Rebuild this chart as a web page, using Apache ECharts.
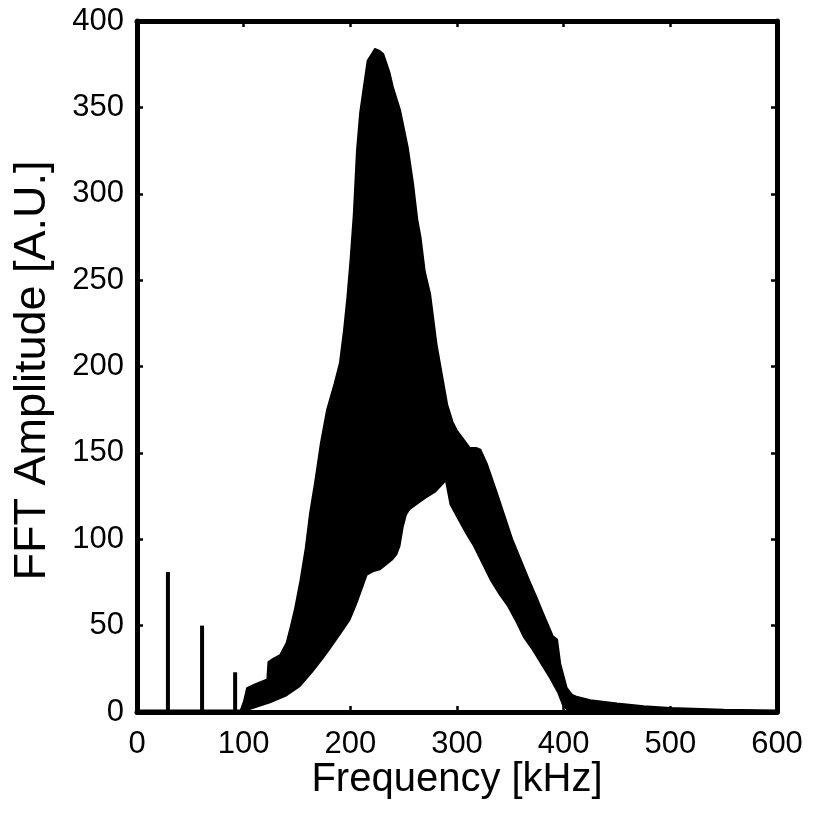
<!DOCTYPE html>
<html>
<head>
<meta charset="utf-8">
<script src="https://cdn.jsdelivr.net/npm/echarts@6/dist/echarts.min.js"></script>
<style>
html,body{margin:0;padding:0;background:#fff;}
#chart{width:813px;height:817px;}
</style>
</head>
<body>
<div id="chart"></div>
<script>
// Upper envelope of the FFT amplitude (kHz, A.U.)
const upperFreq = [0, 50, 97, 100, 103, 110, 118, 122, 123, 128, 134, 140, 143, 148, 153, 158, 162, 167, 172, 178, 185, 190, 194, 197, 200, 203, 206, 209, 212, 216, 220, 223, 227, 231, 237, 240, 247, 254, 259, 263, 266, 270, 275, 281, 287, 291, 296, 300, 306, 312, 318, 322, 328, 337, 345, 352, 360, 368, 375, 381, 390, 394, 397, 403, 408, 412, 425, 450, 475, 500, 550, 600];
const upperAmp  = [1, 1, 1, 6, 14, 16, 18, 19, 29, 31, 33, 40, 47, 60, 76, 95, 115, 134, 155, 175, 190, 202, 222, 240, 262, 288, 325, 347, 360, 377, 381, 384, 383, 381, 370, 362, 348, 327, 306, 285, 275, 255, 242, 213, 192, 178, 168, 163, 158, 153, 153, 152, 144, 128, 113, 100, 88, 76, 66, 57, 44, 42, 28, 14, 10, 9, 7, 5, 3.5, 2.5, 1.5, 1];

// Lower envelope of the FFT amplitude
const lowerFreq = [98, 100, 110, 125, 140, 153, 165, 175, 181, 190, 200, 206, 212, 216, 222, 228, 234, 240, 244, 247, 250, 253, 256, 265, 272, 280, 286, 289, 293, 300, 308, 315, 323, 331, 339, 347, 355, 362, 370, 378, 386, 394, 399, 403, 412, 425, 600];
const lowerAmp  = [0, 0, 2, 5, 9, 14.5, 23, 31, 36, 44, 53, 62, 72, 79, 81, 82, 85, 88, 91, 96, 107, 114, 117, 121, 124, 127, 131, 133, 120, 112, 103, 96, 86, 76, 68, 61, 52, 43, 36, 28, 20, 11, 3, 1, 0.5, 0.3, 0];

// Harmonic spikes below 100 kHz
const spikeFreq = [29, 61, 92];
const spikeAmp  = [81, 50, 23];

const xTicks = [0, 100, 200, 300, 400, 500, 600];
const yTicks = [0, 50, 100, 150, 200, 250, 300, 350, 400];

const FONT = '"Liberation Sans", Arial, Helvetica, sans-serif';
const pair = (xs, ys) => xs.map((x, i) => [x, ys[i]]);

const axisCommon = {
  type: 'value',
  splitLine: {show: false},
  axisLine: {show: true, onZero: false, lineStyle: {color: '#000', width: 5}},
  axisTick: {show: true, inside: true, length: 6, lineStyle: {color: '#000', width: 2.5}},
  nameMoveOverlap: false,
  z: 5
};

const chart = echarts.init(document.getElementById('chart'), null, {renderer: 'canvas'});
chart.setOption({
  animation: false,
  backgroundColor: '#fff',
  grid: {left: 137, right: 36, top: 21, bottom: 105, containLabel: false},
  xAxis: [
    Object.assign({}, axisCommon, {
      position: 'bottom', min: xTicks[0], max: xTicks[xTicks.length - 1], interval: 100,
      name: 'Frequency [kHz]', nameLocation: 'middle', nameGap: 48,
      nameTextStyle: {fontFamily: FONT, fontSize: 40, color: '#000'},
      axisLabel: {show: true, margin: 17, fontFamily: FONT, fontSize: 31, color: '#000'}
    }),
    Object.assign({}, axisCommon, {
      position: 'top', min: xTicks[0], max: xTicks[xTicks.length - 1], interval: 100,
      axisLabel: {show: false}
    })
  ],
  yAxis: [
    Object.assign({}, axisCommon, {
      position: 'left', min: yTicks[0], max: yTicks[yTicks.length - 1], interval: 50,
      name: 'FFT Amplitude [A.U.]', nameLocation: 'middle', nameGap: 82,
      nameTextStyle: {fontFamily: FONT, fontSize: 45, color: '#000', padding: [0, 8, 0, 0]},
      axisLabel: {show: true, margin: 13, fontFamily: FONT, fontSize: 31, color: '#000'}
    }),
    Object.assign({}, axisCommon, {
      position: 'right', min: yTicks[0], max: yTicks[yTicks.length - 1], interval: 50,
      axisLabel: {show: false}
    })
  ],
  series: [
    {
      type: 'line', name: 'upper', xAxisIndex: 0, yAxisIndex: 0,
      data: pair(upperFreq, upperAmp),
      symbol: 'none', z: 2,
      lineStyle: {color: '#000', width: 1.5},
      areaStyle: {color: '#000', opacity: 1}
    },
    {
      type: 'line', name: 'lower', xAxisIndex: 0, yAxisIndex: 0,
      data: pair(lowerFreq, lowerAmp),
      symbol: 'none', z: 3,
      lineStyle: {width: 0, opacity: 0},
      areaStyle: {color: '#fff', opacity: 1}
    },
    {
      type: 'bar', name: 'spikes', xAxisIndex: 0, yAxisIndex: 0,
      data: pair(spikeFreq, spikeAmp),
      barWidth: 4, z: 4,
      itemStyle: {color: '#000'}
    }
  ]
});
</script>
</body>
</html>
